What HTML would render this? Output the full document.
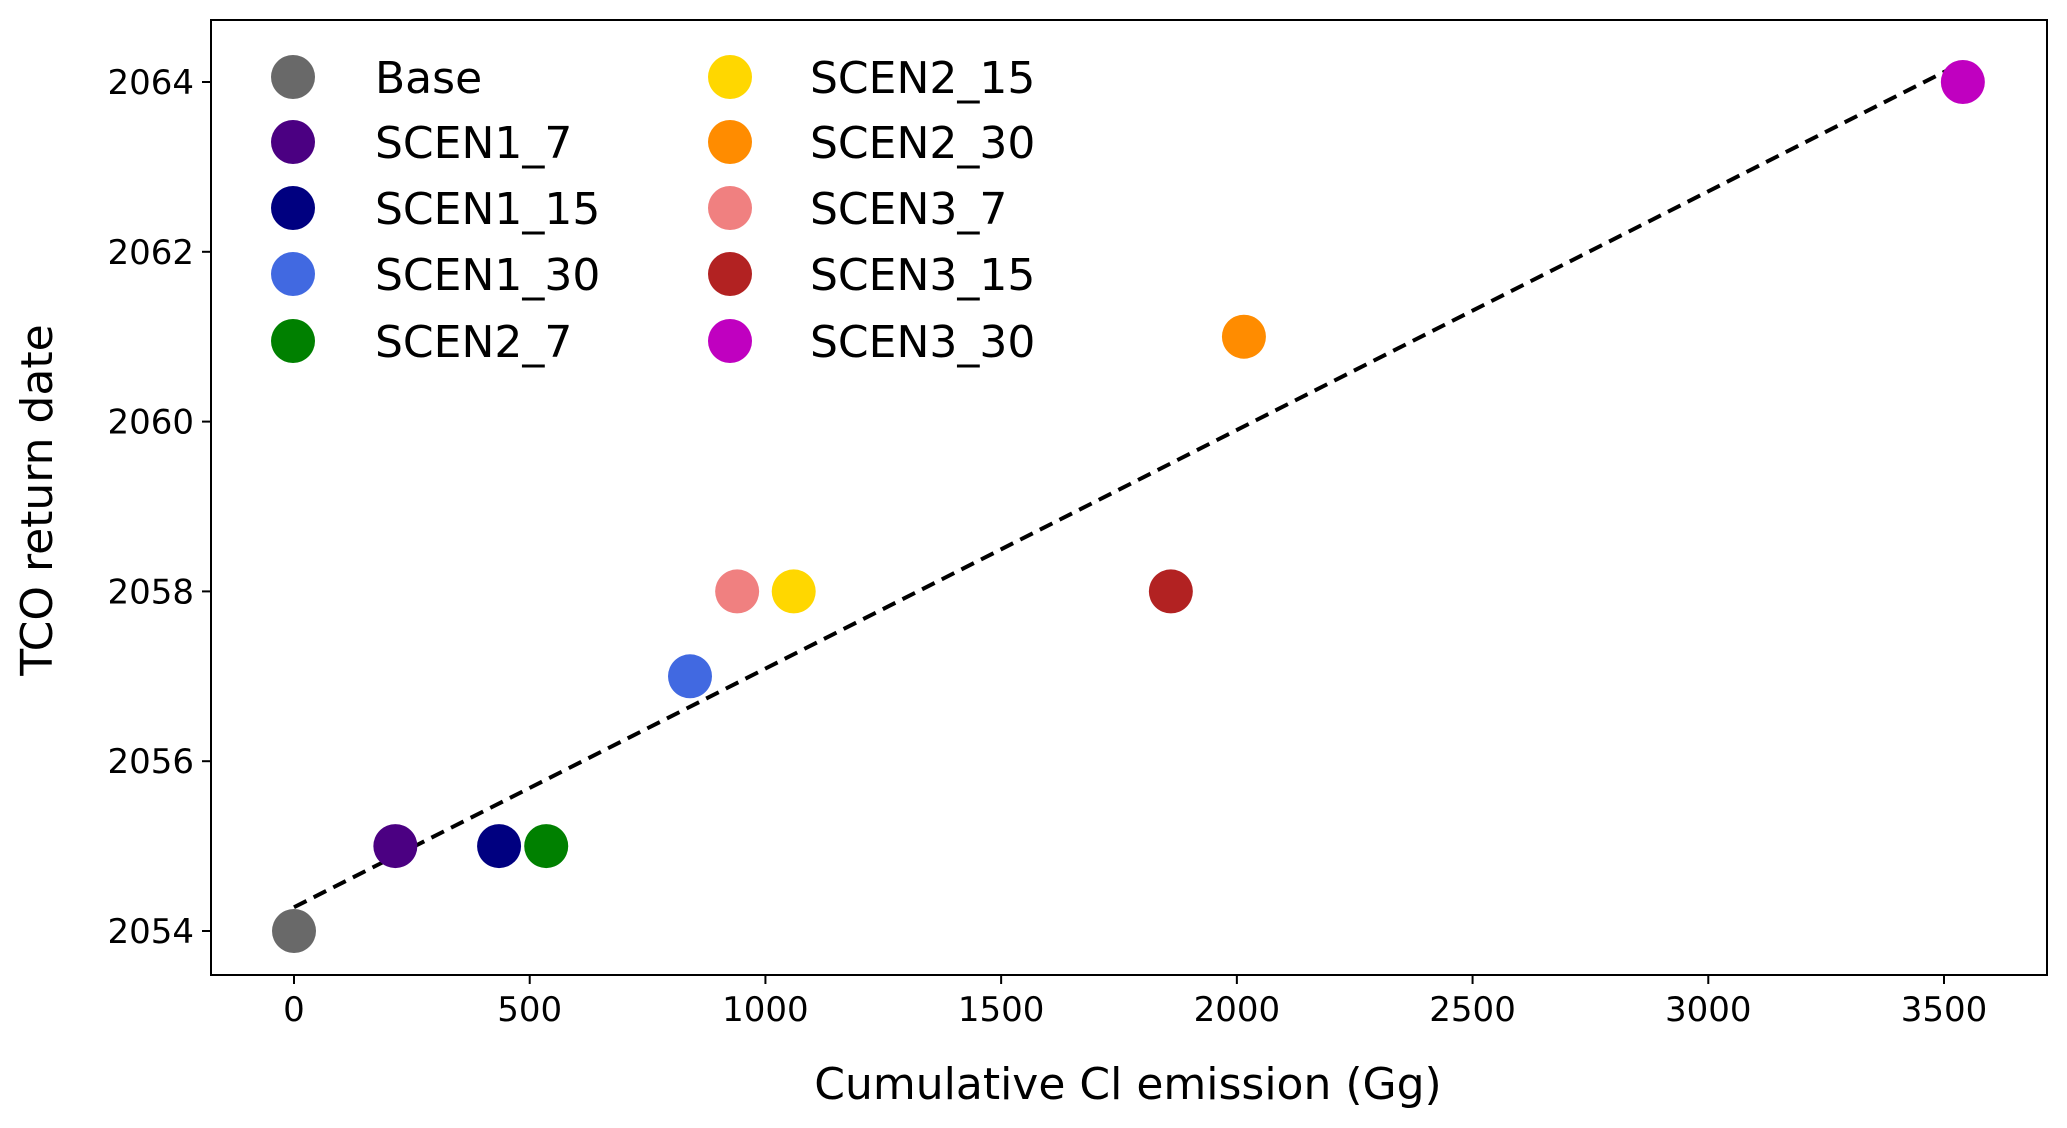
<!DOCTYPE html>
<html><head><meta charset="utf-8"><style>
html,body{margin:0;padding:0;background:#fff;}
svg{display:block;font-family:"DejaVu Sans","Liberation Sans",sans-serif;}
</style></head><body>
<svg id="chart" width="2067" height="1128" viewBox="0 0 2067 1128">
<rect x="0" y="0" width="2067" height="1128" fill="#fff"/>
<g id="xticks"></g>
<g id="yticks"></g>
<g id="fit"></g>
<g id="points"></g>
<g id="legend"></g>
<rect x="211" y="20" width="1836" height="955" fill="none" stroke="#000" stroke-width="2"/>
<text x="1128" y="1099" font-size="44" text-anchor="middle">Cumulative Cl emission (Gg)</text>
<text transform="translate(52,500) rotate(-90)" font-size="44" text-anchor="middle">TCO return date</text>
</svg>
<script>
const names = ["Base","SCEN1_7","SCEN1_15","SCEN1_30","SCEN2_7","SCEN2_15","SCEN2_30","SCEN3_7","SCEN3_15","SCEN3_30"];
const colors = ["#696969","#4b0082","#000080","#4169e1","#008000","#ffd700","#ff8c00","#f08080","#b22222","#c000c0"];
const emissions = [0,215,435,840,535,1060,2015,940,1860,3540];
const returnYears = [2054,2055,2055,2057,2055,2058,2061,2058,2058,2064];
const fitX = [0,3540];
const fitY = [2054.28,2064.23];
const xTicks = [0,500,1000,1500,2000,2500,3000,3500];
const yTicks = [2054,2056,2058,2060,2062,2064];

const NS="http://www.w3.org/2000/svg";
function xs(v){return 294 + v*(1650/3500);}
function ys(v){return 931 - (v-2054)*(849/10);}
function mk(tag,attrs,parent){const e=document.createElementNS(NS,tag);for(const k in attrs)e.setAttribute(k,attrs[k]);parent.appendChild(e);return e;}

const xg=document.getElementById('xticks');
xTicks.forEach(t=>{
  const l=mk('line',{x1:xs(t),x2:xs(t),y1:975,y2:984,stroke:'#000','stroke-width':2},xg);
  
  
  const tx=mk('text',{x:xs(t),y:1021,'font-size':34,'text-anchor':'middle'},xg);
  tx.textContent=t;
  
  
});
const yg=document.getElementById('yticks');
yTicks.forEach(t=>{
  const l=mk('line',{x1:202,x2:211,y1:ys(t),y2:ys(t),stroke:'#000','stroke-width':2},yg);
  
  
  const tx=mk('text',{x:194,y:ys(t)+12,'font-size':34,'text-anchor':'end'},yg);
  tx.textContent=t;
  
  
});
const fg=document.getElementById('fit');
const fl=mk('line',{x1:xs(fitX[0]),y1:ys(fitY[0]),x2:xs(fitX[1]),y2:ys(fitY[1]),stroke:'#000','stroke-width':4,'stroke-dasharray':'14 8'},fg);



const pg=document.getElementById('points');
names.forEach((n,i)=>{
  const c=mk('circle',{cx:xs(emissions[i]),cy:ys(returnYears[i]),r:22,fill:colors[i]},pg);
  
  
});

const lg=document.getElementById('legend');
const rowY=[77,142,208,274,341];
names.forEach((n,i)=>{
  const col=Math.floor(i/5), row=i%5;
  const cx=col?730:293, tx=col?810:375;
  const c=mk('circle',{cx:cx,cy:rowY[row],r:22,fill:colors[i]},lg);
  
  
  const t=mk('text',{x:tx,y:rowY[row]+16,'font-size':44},lg);
  t.textContent=n;
  
  
});
</script>
</body></html>
